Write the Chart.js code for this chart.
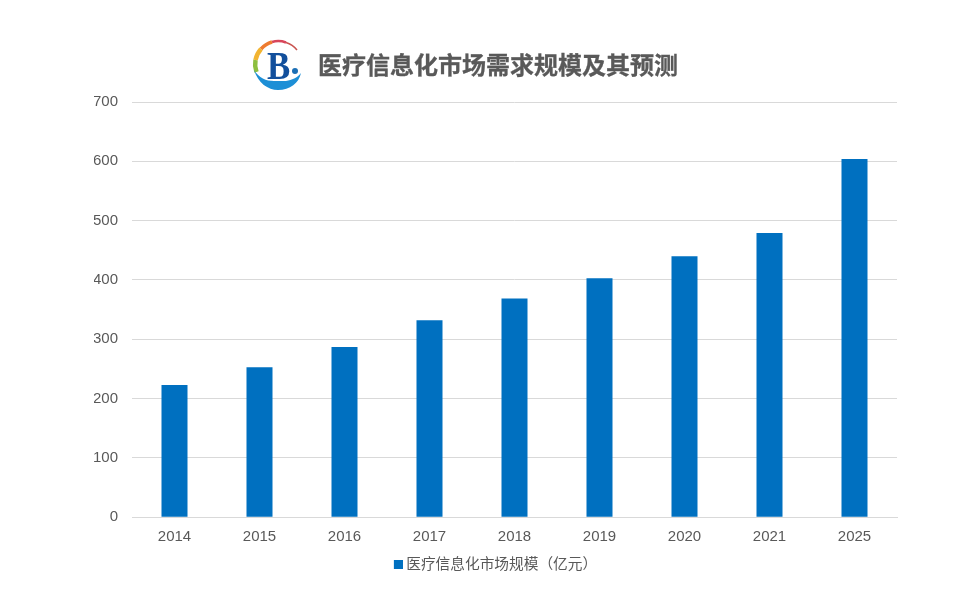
<!DOCTYPE html>
<html>
<head>
<meta charset="utf-8">
<title>医疗信息化市场需求规模及其预测</title>
<script src="https://cdn.jsdelivr.net/npm/chart.js@4"></script>
<style>
    html, body { margin: 0; padding: 0; background: #fff; overflow: hidden; }
    #wrap { position: relative; width: 958px; height: 601px; }
    #title {
        position: absolute; left: 318px; top: 46px; white-space: nowrap;
        font: bold 24px "Noto Sans CJK SC", sans-serif; line-height: 36px; color: #595959;
        -webkit-text-stroke: 0.3px #595959;
    }
    #logo { position: absolute; left: 250px; top: 37px; }
</style>
</head>
<body>
<div id="wrap">
    <canvas id="barChart" width="958" height="601"></canvas>
    <svg id="logo" width="56" height="56" viewBox="0 0 56 56">
        <!-- ring, top right round to lower left -->
        <g fill="none">
            <path d="M47 13 A23 23 0 0 0 36 5.5" stroke="#c9534f" stroke-width="1.5"/>
            <path d="M36 5.5 A23 23 0 0 0 22 5" stroke="#d8455a" stroke-width="2.5"/>
            <path d="M22 5 A23 23 0 0 0 11 12" stroke="#ee7b30" stroke-width="3.5"/>
            <path d="M11 12 A23 23 0 0 0 5.5 23" stroke="#f2b431" stroke-width="4.5"/>
            <path d="M5.5 23 A23 23 0 0 0 6.5 35" stroke="#8dbf3f" stroke-width="4.5"/>
        </g>
        <path d="M4 33 C8 46 18 53 28 53 C40 53 49 46 51 36 C47 41 42 43 36 44 L24 44 C16 44 9 41 4 33 Z" fill="#1d8fd6"/>
        <text transform="translate(17 42) scale(0.85 1)" font-family="Liberation Serif" font-weight="bold" font-size="41" fill="#124f9c">B</text>
        <circle cx="45" cy="34" r="3" fill="#1b6fb5"/>
    </svg>
    <div id="title">医疗信息化市场需求规模及其预测</div>
</div>
<script>
var categories = ["2014", "2015", "2016", "2017", "2018", "2019", "2020", "2021", "2025"];
var market_size = [223, 253, 287, 332, 369, 403, 440, 479, 604];
var y_ticks = [0, 100, 200, 300, 400, 500, 600, 700];
var series_name = "医疗信息化市场规模（亿元）";

var bar_color = "#0070c0";
var grid_color = "#d9d9d9";
var text_color = "#595959";
var font_family = '"Liberation Sans", "Noto Sans CJK SC", sans-serif';

// legend swatch as a canvas with empty space on the left, it nudges the marker
// against the label and lines the pair up with the reference
var swatch = document.createElement("canvas");
swatch.width = 13;
swatch.height = 9;
var swatchCtx = swatch.getContext("2d");
swatchCtx.fillStyle = bar_color;
swatchCtx.fillRect(4, 0, 9, 9);

new Chart(document.getElementById("barChart").getContext("2d"), {
    type: "bar",
    data: {
        labels: categories,
        datasets: [
            {
                label: series_name,
                data: market_size,
                backgroundColor: bar_color,
                categoryPercentage: 1,
                barPercentage: 0.306,
            },
        ],
    },
    options: {
        responsive: false,
        animation: false,
        layout: { padding: { left: 94, right: 61, top: 102, bottom: 19 } },
        plugins: {
            tooltip: { enabled: false },
            legend: {
                position: "bottom",
                labels: {
                    usePointStyle: true,
                    pointStyle: swatch,
                    boxWidth: 5,
                    boxHeight: 9,
                    padding: 8,
                    color: text_color,
                    font: { family: font_family, size: 14.7 },
                },
            },
        },
        scales: {
            x: {
                grid: { display: false },
                border: { color: grid_color },
                ticks: {
                    color: text_color,
                    padding: 3,
                    maxRotation: 0,
                    font: { family: font_family, size: 15 },
                },
            },
            y: {
                min: 0,
                max: 700,
                afterFit: function (scale) {
                    scale.width = 38;
                },
                afterBuildTicks: function (scale) {
                    scale.ticks = y_ticks.map((v) => ({ value: v }));
                },
                grid: { color: grid_color, drawTicks: false },
                border: { display: false },
                ticks: {
                    color: text_color,
                    padding: 14,
                    font: { family: font_family, size: 15 },
                },
            },
        },
    },
});
</script>
</body>
</html>
